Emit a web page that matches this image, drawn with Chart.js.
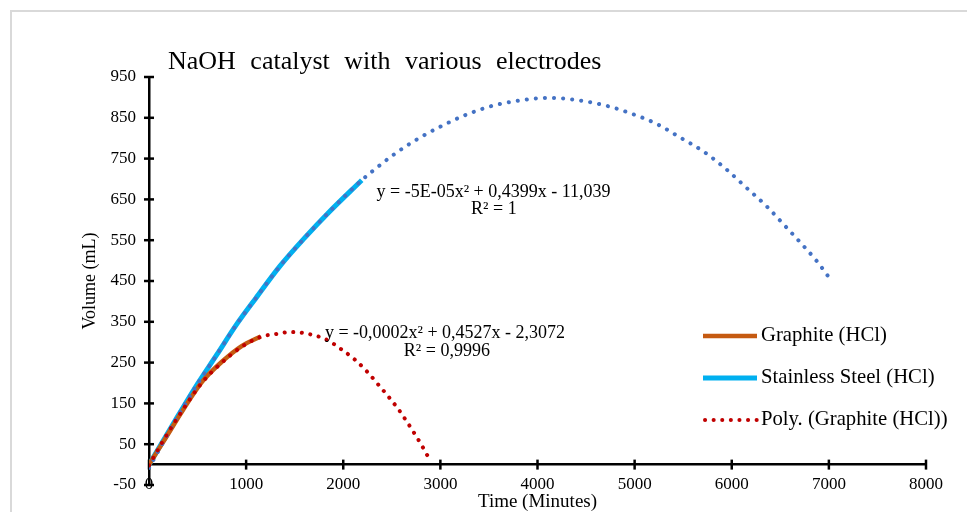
<!DOCTYPE html>
<html>
<head>
<meta charset="utf-8">
<script src="https://cdn.jsdelivr.net/npm/chart.js@4.4.0/dist/chart.umd.min.js"></script>
<style>
html,body{margin:0;padding:0;background:#fff;overflow:hidden;width:967px;height:512px;}
#frame{position:absolute;left:10px;top:10px;width:1000px;height:600px;border:2px solid #d9d9d9;box-sizing:border-box;}
#c{position:absolute;left:0;top:0;}
</style>
</head>
<body>
<div id="frame"></div>
<canvas id="c" width="967" height="512"></canvas>
<script>
// ---- text ----
const chartTitle = 'NaOH catalyst with various electrodes';
const xAxisTitle = 'Time (Minutes)';
const yAxisTitle = 'Volume (mL)';
const seriesNames = ['Graphite (HCl)', 'Stainless Steel (HCl)', 'Poly. (Graphite (HCl))', 'Poly. (Stainless Steel (HCl))'];
const trendEquations = ['y = -0,0002x² + 0,4527x - 2,3072', 'y = -5E-05x² + 0,4399x - 11,039'];
const trendR2 = ['R² = 0,9996', 'R² = 1'];

// ---- axis ticks ----
const xTickMin = 0, xTickMax = 8000, xTickStep = 1000;
const yTickMin = -50, yTickMax = 950, yTickStep = 100;

// ---- measured series ----
const graphiteTime   = [0, 150, 350, 550, 750, 950, 1150];
const graphiteVolume = [0, 57, 134, 204, 252, 290, 314];

const stainlessTime   = [0, 300, 500, 700, 900, 1100, 1350, 1600, 1850, 2190];
const stainlessVolume = [0, 120, 198, 270, 343, 408, 487, 555, 618, 697];

// ---- polynomial trend lines ----
const graphiteTrendTime   = [0, 150, 350, 550, 750, 950, 1150, 1330, 1450, 1624, 1830, 1984, 2121, 2241, 2361, 2464, 2567, 2653, 2739, 2808, 2890];
const graphiteTrendVolume = [-2, 60, 135, 202, 250, 288, 313, 321, 325, 321, 306, 282, 257, 229, 196, 167, 136, 106, 74, 47, 12];

const stainlessTrendTime   = [0, 300, 500, 700, 900, 1100, 1350, 1600, 1850, 2190, 2310, 2533, 2780, 3030, 3281, 3545, 3830, 4122, 4420, 4702, 4970, 5227, 5467, 5718, 5938, 6154, 6360, 6541, 6731, 6868, 7032];
const stainlessTrendVolume = [-8, 120, 198, 270, 343, 408, 487, 555, 618, 697, 721, 762, 800, 832, 859, 880, 893, 899, 893, 880, 860, 835, 802, 766, 725, 678, 633, 587, 538, 501, 449];

// equation anchor points in data units
const eqAnchorX = [1811, 2343];
const eqAnchorY = [323, 667];
const r2AnchorX = [3067, 3551];
const r2AnchorY = [278, 625];

const FONT = "'Liberation Serif', 'Times New Roman', serif";

const pts = (xs, ys) => xs.map((x, i) => ({x: x, y: ys[i]}));

const overlayPlugin = {
  id: 'overlay',
  beforeDatasetsDraw(chart) {
    const ctx = chart.ctx;
    const xs = chart.scales.x, ys = chart.scales.y;
    ctx.save();
    ctx.strokeStyle = '#000';
    ctx.lineWidth = 2.5;
    const y0 = ys.getPixelForValue(0);
    xs.ticks.forEach(t => {
      const px = xs.getPixelForValue(t.value);
      ctx.beginPath(); ctx.moveTo(px, y0 - 5); ctx.lineTo(px, y0 + 5); ctx.stroke();
    });
    const x0 = xs.getPixelForValue(0);
    ys.ticks.forEach(t => {
      const py = ys.getPixelForValue(t.value);
      ctx.beginPath(); ctx.moveTo(x0 - 5, py); ctx.lineTo(x0 + 5, py); ctx.stroke();
    });
    ctx.restore();
  },
  afterDraw(chart) {
    const ctx = chart.ctx;
    const xs = chart.scales.x, ys = chart.scales.y;
    const area = chart.chartArea;
    ctx.save();
    // title
    ctx.fillStyle = '#000';
    ctx.font = '26px ' + FONT;
    try { ctx.wordSpacing = '8px'; } catch (e) {}
    ctx.textAlign = 'left';
    ctx.textBaseline = 'alphabetic';
    ctx.fillText(chartTitle, area.left + 19, 69);
    try { ctx.wordSpacing = '0px'; } catch (e) {}
    // trend equations
    ctx.font = '18px ' + FONT;
    ctx.textBaseline = 'middle';
    for (let i = 0; i < trendEquations.length; i++) {
      ctx.textAlign = 'left';
      ctx.fillText(trendEquations[i], xs.getPixelForValue(eqAnchorX[i]), ys.getPixelForValue(eqAnchorY[i]));
      ctx.textAlign = 'center';
      ctx.fillText(trendR2[i], xs.getPixelForValue(r2AnchorX[i]), ys.getPixelForValue(r2AnchorY[i]));
    }
    // legend
    const items = chart.data.datasets.filter(d => d.showInLegend);
    const lx0 = area.left + 554, lx1 = area.left + 608, tx = area.left + 612;
    items.forEach((d, i) => {
      const ly = 336 + 42 * i;
      ctx.save();
      ctx.strokeStyle = d.borderColor;
      ctx.lineWidth = d.borderWidth;
      ctx.lineCap = d.borderCapStyle || 'butt';
      ctx.setLineDash(d.borderDash || []);
      ctx.beginPath();
      ctx.moveTo(lx0 + (d.borderDash ? 2 : 0), ly);
      ctx.lineTo(lx1, ly);
      ctx.stroke();
      ctx.restore();
      ctx.fillStyle = '#000';
      ctx.font = '20.7px ' + FONT;
      ctx.textAlign = 'left';
      ctx.textBaseline = 'middle';
      ctx.fillText(d.label, tx, ly);
    });
    ctx.restore();
  }
};

new Chart(document.getElementById('c'), {
  type: 'line',
  data: {
    datasets: [
      {label: seriesNames[0], data: pts(graphiteTime, graphiteVolume), borderColor: '#C55A11', borderWidth: 4.5, borderCapStyle: 'butt', order: 2, showInLegend: true},
      {label: seriesNames[1], data: pts(stainlessTime, stainlessVolume), borderColor: '#00B0F0', borderWidth: 5, borderCapStyle: 'butt', order: 2, showInLegend: true},
      {label: seriesNames[2], data: pts(graphiteTrendTime, graphiteTrendVolume), borderColor: '#C00000', borderWidth: 4, borderDash: [0.1, 8.5], borderCapStyle: 'round', order: 1, showInLegend: true},
      {label: seriesNames[3], data: pts(stainlessTrendTime, stainlessTrendVolume), borderColor: '#4472C4', borderWidth: 4, borderDash: [0.1, 9], borderCapStyle: 'round', order: 1, showInLegend: false}
    ]
  },
  options: {
    responsive: false,
    animation: false,
    elements: {
      point: {radius: 0, hoverRadius: 0},
      line: {tension: 0.4, cubicInterpolationMode: 'monotone', borderJoinStyle: 'round'}
    },
    layout: {padding: {left: 70, right: 41, top: 77, bottom: 27}},
    plugins: {legend: {display: false}, tooltip: {enabled: false}, title: {display: false}},
    scales: {
      x: {
        type: 'linear',
        position: {y: 0},
        min: xTickMin, max: xTickMax,
        ticks: {stepSize: xTickStep, color: '#000', font: {family: FONT, size: 17}, padding: 10, maxRotation: 0, autoSkip: false, callback: v => String(v)},
        grid: {display: false, drawTicks: false},
        border: {display: true, color: '#000', width: 2.5},
        title: {display: true, text: xAxisTitle, color: '#000', font: {family: FONT, size: 19}, padding: {top: -14, bottom: 0}}
      },
      y: {
        type: 'linear',
        position: 'left',
        min: yTickMin, max: yTickMax,
        ticks: {stepSize: yTickStep, color: '#000', font: {family: FONT, size: 17}, padding: 13, callback: v => String(v)},
        grid: {display: false, drawTicks: false},
        border: {display: true, color: '#000', width: 2.5},
        title: {display: true, text: yAxisTitle, color: '#000', font: {family: FONT, size: 18}, padding: {top: 9, bottom: 0}},
        afterFit(scale) { scale.width = 79; }
      }
    }
  },
  plugins: [overlayPlugin]
});
</script>
</body>
</html>
